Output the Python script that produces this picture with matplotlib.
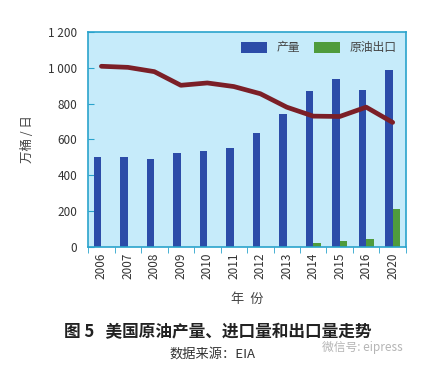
import matplotlib
matplotlib.use("Agg")
import matplotlib.pyplot as plt
import numpy as np

plt.rcParams['font.family'] = ['Noto Sans CJK SC', 'DejaVu Sans']

annees = ["2006", "2007", "2008", "2009", "2010", "2011",
          "2012", "2013", "2014", "2015", "2016", "2020"]
production = [503, 500, 492, 525, 535, 552, 638, 740, 868, 935, 875, 988]
exportation = [0, 0, 0, 0, 0, 0, 0, 0, 24, 33, 43, 212]
importation = [1008, 1002, 978, 902, 915, 895, 855, 780, 730, 728, 780, 695]

bleu = "#2c4ca8"
vert = "#4f9b3c"
rouge = "#7b1f27"
fond = "#c6ebfa"
bord = "#2aa3cc"

fig = plt.figure(figsize=(4.3, 3.66), dpi=100)
ax = fig.add_axes([0.205, 0.325, 0.739, 0.588])
ax.set_facecolor(fond)

x = np.arange(len(annees))
larg = 0.29
ax.bar(x - larg / 2, production, larg, color=bleu, label="产量", zorder=2)
ax.bar(x + larg / 2, exportation, larg, color=vert, label="原油出口", zorder=2)
# importations : ligne épaisse rouge foncé
ax.plot(x, importation, color=rouge, lw=3.4, solid_joinstyle="round",
        solid_capstyle="round", zorder=3)

ax.set_xlim(-0.5, len(annees) - 0.5)
ax.set_ylim(0, 1200)
ax.set_yticks(range(0, 1201, 200))
ax.set_yticklabels(["0", "200", "400", "600", "800", "1 000", "1 200"])
ax.set_xticks(x)
ax.set_xticklabels(annees, rotation=90, fontsize=8.5, color="#333333")
ax.set_xticks(np.arange(len(annees) + 1) - 0.5, minor=True)
ax.tick_params(axis="x", which="major", length=0, pad=4)
ax.tick_params(axis="x", which="minor", direction="out", length=4, color=bord)
ax.tick_params(axis="y", direction="in", length=4, color=bord, labelsize=8.5,
               labelcolor="#333333", pad=8)
for s in ax.spines.values():
    s.set_color(bord)
    s.set_linewidth(1.2)

ax.set_ylabel("万桶 / 日", fontsize=9, color="#444444", labelpad=10)
ax.set_xlabel("年  份", fontsize=9.5, color="#444444", labelpad=10)

ax.legend(loc="upper right", ncol=2, frameon=False, fontsize=8.5,
          handlelength=2.2, handleheight=1.0, columnspacing=1.2,
          borderaxespad=0.4, labelcolor="#444444")

fig.text(0.15, 0.08, "图 5   美国原油产量、进口量和出口量走势", fontsize=12,
         fontweight="bold", color="#222222")
fig.text(0.395, 0.022, "数据来源：EIA", fontsize=9.5, color="#333333")
fig.text(0.75, 0.04, "微信号: eipress", fontsize=8.5, color="#b5b5b5")

fig.savefig("out.png", dpi=100)
